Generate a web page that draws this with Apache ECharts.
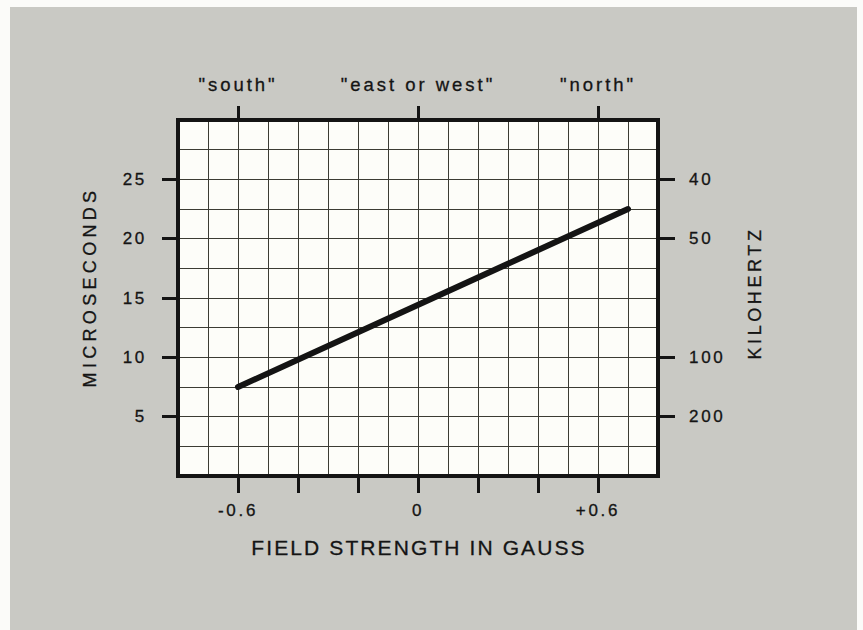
<!DOCTYPE html>
<html>
<head>
<meta charset="utf-8">
<script src="https://cdn.jsdelivr.net/npm/echarts@6/dist/echarts.min.js"></script>
<style>
  html, body { margin: 0; padding: 0; width: 863px; height: 630px; overflow: hidden; background: #fbfbf9; }
  #paper { position: absolute; left: 10px; top: 7px; width: 847px; height: 623px; background: #c9c9c4; }
  #chart { position: absolute; left: 0; top: 0; width: 863px; height: 630px; }
  #chart text { letter-spacing: 0.16em; }
</style>
</head>
<body>
<div id="paper"></div>
<div id="chart"></div>
<script>
// Pulse period versus magnetic field strength
const fieldGauss   = [-0.6, 0.7];
const microseconds = [7.5, 22.5];

// Axis ticks and labels
const gaussTicks    = [-0.6, -0.4, -0.2, 0, 0.2, 0.4, 0.6];
const gaussLabels   = [-0.6, 0, 0.6];
const compassAt     = [-0.6, 0, 0.6];
const compassLabels = ['"south"', '"east or west"', '"north"'];
const usTicks       = [5, 10, 15, 20, 25];
const khzTicks      = [40, 50, 100, 200];

const INK = '#141414';
const GRID = '#3c3c34';
const FONT = "'Liberation Sans', Arial, Helvetica, sans-serif";

// Extra spacing per title, in em
const titleSpacing = { 'MICROSECONDS': 0.24, 'KILOHERTZ': 0.2, 'FIELD STRENGTH IN GAUSS': 0.1 };

const khzAsUs = khzTicks.map(k => 1000 / k);

const chart = echarts.init(document.getElementById('chart'), null, { renderer: 'svg' });

const frameLine = { show: true, onZero: false, lineStyle: { color: INK, width: 4, cap: 'square' } };
const labelText = { color: INK, fontSize: 17, fontFamily: FONT, textBorderColor: INK, textBorderWidth: 0.3 };
const hidden = { show: false };

chart.setOption({
  animation: false,
  backgroundColor: 'transparent',
  grid: {
    left: 178, top: 120, width: 480, height: 356,
    show: true, backgroundColor: '#fdfdf9', borderWidth: 0
  },
  xAxis: [
    {
      // fine grid, one line every 0.1 gauss
      type: 'value', position: 'bottom', min: -0.8, max: 0.8, interval: 0.1,
      axisLine: hidden, axisTick: hidden, axisLabel: hidden,
      splitLine: { show: true, lineStyle: { color: GRID, width: 1 } }
    },
    {
      type: 'value', position: 'bottom', min: -0.8, max: 0.8,
      axisLine: frameLine,
      splitLine: hidden,
      axisTick: { show: true, customValues: gaussTicks, length: 17, lineStyle: { color: INK, width: 3 } },
      axisLabel: Object.assign({
        customValues: gaussLabels, margin: 26,
        formatter: v => (v > 0 ? '+' + v : String(v))
      }, labelText)
    },
    {
      type: 'value', position: 'top', min: -0.8, max: 0.8,
      axisLine: frameLine,
      splitLine: hidden,
      axisTick: { show: true, customValues: compassAt, length: 14, lineStyle: { color: INK, width: 3 } },
      axisLabel: Object.assign({
        customValues: compassAt, margin: 26,
        formatter: v => compassLabels[compassAt.indexOf(v)]
      }, labelText, { fontSize: 18.5 })
    }
  ],
  yAxis: [
    {
      // fine grid, one line every 2.5 microseconds
      type: 'value', position: 'left', min: 0, max: 30, interval: 2.5,
      axisLine: hidden, axisTick: hidden, axisLabel: hidden,
      splitLine: { show: true, lineStyle: { color: GRID, width: 1 } }
    },
    {
      type: 'value', position: 'left', min: 0, max: 30,
      axisLine: frameLine,
      splitLine: hidden,
      axisTick: { show: true, customValues: usTicks, length: 16, lineStyle: { color: INK, width: 3 } },
      axisLabel: Object.assign({ customValues: usTicks, margin: 31 }, labelText)
    },
    {
      type: 'value', position: 'right', min: 0, max: 30,
      axisLine: frameLine,
      splitLine: hidden,
      axisTick: { show: true, customValues: khzAsUs, length: 17, lineStyle: { color: INK, width: 3 } },
      axisLabel: Object.assign({
        customValues: khzAsUs, margin: 31, align: 'left',
        formatter: v => String(Math.round(1000 / v))
      }, labelText)
    }
  ],
  series: [{
    type: 'line',
    xAxisIndex: 1, yAxisIndex: 1,
    data: fieldGauss.map((g, i) => [g, microseconds[i]]),
    symbol: 'none',
    lineStyle: { color: INK, width: 6, cap: 'round' },
    z: 5
  }],
  graphic: [
    {
      type: 'text', x: 90, y: 287, rotation: Math.PI / 2,
      style: { text: 'MICROSECONDS', fill: INK, stroke: INK, lineWidth: 0.3, font: '18px ' + FONT, align: 'center', verticalAlign: 'middle' }
    },
    {
      type: 'text', x: 755, y: 293, rotation: Math.PI / 2,
      style: { text: 'KILOHERTZ', fill: INK, stroke: INK, lineWidth: 0.3, font: '18px ' + FONT, align: 'center', verticalAlign: 'middle' }
    },
    {
      type: 'text', x: 419, y: 547,
      style: { text: 'FIELD STRENGTH IN GAUSS', fill: INK, stroke: INK, lineWidth: 0.3, font: '21px ' + FONT, align: 'center', verticalAlign: 'middle' }
    }
  ]
});

// widen the tracking of the axis titles
document.querySelectorAll('#chart text').forEach(t => {
  const em = titleSpacing[t.textContent];
  if (em !== undefined) t.style.letterSpacing = em + 'em';
});
</script>
</body>
</html>
